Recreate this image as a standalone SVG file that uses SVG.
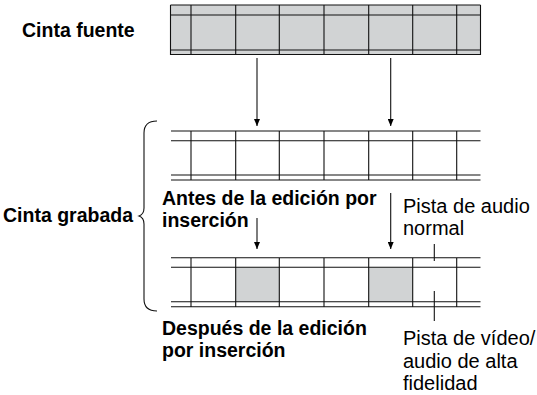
<svg xmlns="http://www.w3.org/2000/svg" width="537" height="395" viewBox="0 0 537 395">
<defs>
<marker id="ah" markerWidth="7" markerHeight="6" refX="7" refY="3" orient="auto" markerUnits="userSpaceOnUse" viewBox="0 0 7 6">
<path d="M0,0 L7,3 L0,6 Z" fill="#000"/>
</marker>
<style>
.ln{stroke:#111;stroke-width:1.1;fill:none}
.gr{fill:#d1d3d4}
.b{font-family:"Liberation Sans",Arial,sans-serif;font-weight:bold;font-size:19.5px;fill:#000}
.r{font-family:"Liberation Sans",Arial,sans-serif;font-size:20px;fill:#000}
</style>
</defs>
<rect width="537" height="395" fill="#fff"/>

<g id="cinta-fuente">
<text class="b" x="22" y="37">Cinta fuente</text>
<rect class="gr" x="170.5" y="5" width="310" height="50"/>
<path class="ln" d="M170.5,5H480.5M170.5,15H480.5M170.5,50H480.5M170.5,54.5H480.5M170.5,5V55M480.5,5V55M191,5V55M235.7,5V55M279.3,5V55M324,5V55M368.7,5V55M412.7,5V55M456.7,5V55"/>
</g>

<g id="cinta-antes">
<path class="ln" d="M171,131H480.5M171,140.7H480.5M171,175H480.5M171,180H480.5M191,131V180M235.7,131V180M279.3,131V180M324,131V180M368.7,131V180M412.7,131V180M456.7,131V180"/>
<text class="b" x="162" y="205">Antes de la edición por</text>
<text class="b" x="162" y="227">inserción</text>
</g>

<g id="cinta-despues">
<rect class="gr" x="235.7" y="267.3" width="43.6" height="34.4"/>
<rect class="gr" x="368.7" y="267.3" width="44" height="34.4"/>
<path class="ln" d="M171,257.7H480.5M171,267.3H480.5M171,301.7H480.5M171,306.7H480.5M191,257.7V306.7M235.7,257.7V306.7M279.3,257.7V306.7M324,257.7V306.7M368.7,257.7V306.7M412.7,257.7V306.7M456.7,257.7V306.7"/>
<text class="b" x="162" y="335">Después de la edición</text>
<text class="b" x="162" y="357">por inserción</text>
</g>

<g id="cinta-grabada">
<text class="b" x="3" y="222">Cinta grabada</text>
<path class="ln" d="M157,121 C149,121 144,125 144,133 V208 C144,213 142,215 139,216 C142,217 144,219 144,224 V299 C144,307 149,311 157,311"/>
</g>

<g id="label-audio">
<text class="r" x="403" y="213">Pista de audio</text>
<text class="r" x="403" y="235">normal</text>
</g>

<g id="label-video">
<text class="r" x="403" y="345">Pista de vídeo/</text>
<text class="r" x="403" y="368">audio de alta</text>
<text class="r" x="403" y="390">fidelidad</text>
</g>

<g id="connectors">
<line class="ln" x1="257" y1="58" x2="257" y2="126" marker-end="url(#ah)"/>
<line class="ln" x1="390.7" y1="58" x2="390.7" y2="126" marker-end="url(#ah)"/>
<line class="ln" x1="257" y1="218" x2="257" y2="249" marker-end="url(#ah)"/>
<line class="ln" x1="390.7" y1="193" x2="390.7" y2="249" marker-end="url(#ah)"/>
<line class="ln" x1="434.3" y1="244" x2="434.3" y2="261"/>
<line class="ln" x1="434.3" y1="291" x2="434.3" y2="321"/>
</g>
</svg>
